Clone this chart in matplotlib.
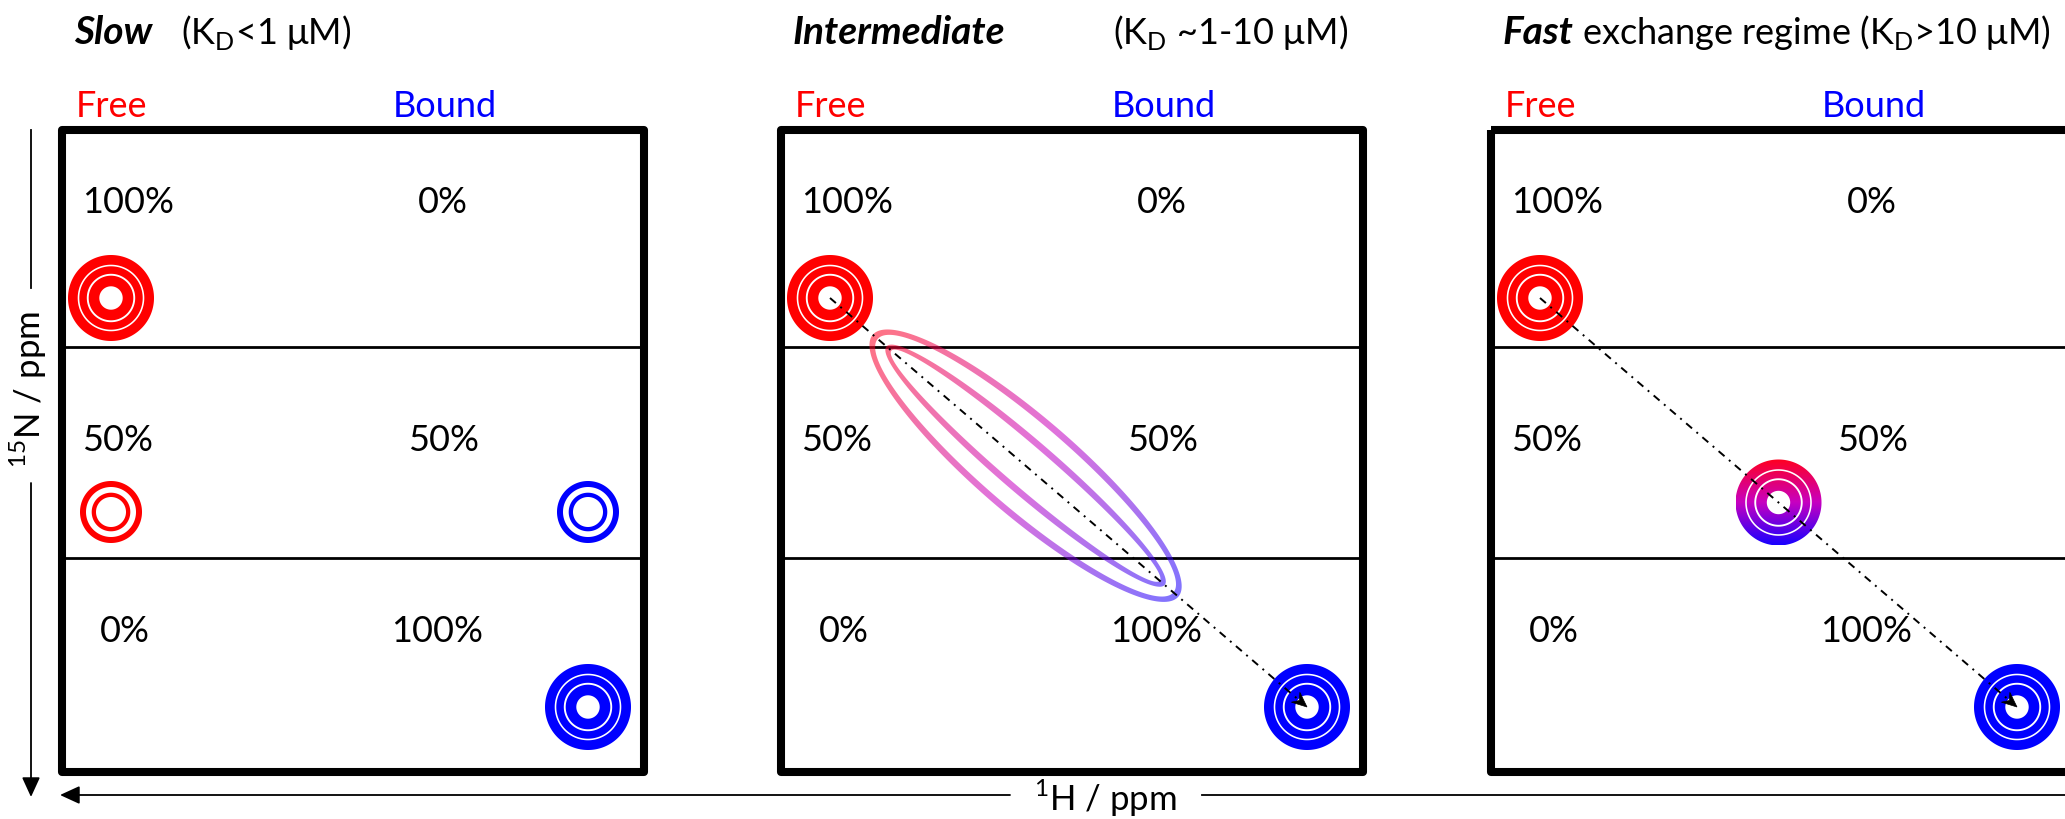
import numpy as np
import matplotlib.pyplot as plt
from matplotlib.path import Path
from matplotlib.patches import PathPatch, Polygon, Rectangle
from matplotlib.colors import LinearSegmentedColormap

plt.rcParams['font.family'] = 'Lato'
plt.rcParams['mathtext.fontset'] = 'custom'
plt.rcParams['mathtext.rm'] = 'Lato'

# regimes and text
regimes = ['Slow', 'Intermediate', 'Fast']
kd_labels = [r'(K$_\mathregular{D}$<1 μM)',
             r'(K$_\mathregular{D}$ ~1-10 μM)',
             r'exchange regime (K$_\mathregular{D}$>10 μM)']
free_pct = [100, 50, 0]
bound_pct = [0, 50, 100]
# position of the 50% peak along the free -> bound path (None = two separate peaks)
mid_frac = [None, 0.41, 0.5]
# broadened intermediate peak: (half length, half width) of the two contours
broad_axes = [(198, 46), (180, 24)]

# layout (pixels)
W, H = 2065, 819
box_x = [58, 777, 1487]
box_top, box_w, box_h = 126, 590, 650
kd_dx = [123, 336, 95]
row_lines = [347, 558]
text_base = [213, 451, 642]
col1_dx = [70, 60, 67]
col2_dx = [385, 386, 379]
free_xy = np.array([53.0, 172.0])
bound_xy = np.array([530.0, 581.0])
half_y = 386
big_rings = [(43, 33.3), (31.7, 24.2), (22.3, 11.7)]
small_rings = [(31, 25), (19.3, 15)]
FS = 26
FS_TITLE = 28

RED, BLUE = '#ff0000', '#0000ff'
cmap = LinearSegmentedColormap.from_list('fb', ['#ff0020', '#c800c0', '#1800ff'])


def ell(cx, cy, a, b, ang, rev=False, n=240):
    t = np.linspace(0, 2 * np.pi, n)
    if rev:
        t = t[::-1]
    x, y = a * np.cos(t), b * np.sin(t)
    c, s = np.cos(ang), np.sin(ang)
    return Path(np.column_stack([cx + x * c - y * s, cy + x * s + y * c]), closed=True)


def peak_path(cx, cy, rings):
    parts = []
    for ro, ri in rings:
        parts += [ell(cx, cy, ro, ro, 0), ell(cx, cy, ri, ri, 0, rev=True)]
    return Path.make_compound_path(*parts)


def solid_peak(cx, cy, rings, color):
    ax.add_patch(PathPatch(peak_path(cx, cy, rings), fc=color, ec='none', zorder=3))


def gradient_peak(cx, cy, rings):
    clip = PathPatch(peak_path(cx, cy, rings), fc='none', ec='none')
    ax.add_patch(clip)
    r = rings[0][0]
    grad = cmap(np.linspace(0, 1, 256))[:, None, :]
    im = ax.imshow(grad, extent=(cx - r, cx + r, cy + r, cy - r), aspect='auto',
                   interpolation='bilinear', zorder=3)
    im.set_clip_path(clip)


def broad_peak(p0, p1, frac, axes_list, lw=6.5):
    d = p1 - p0
    ang = np.arctan2(d[1], d[0])
    c = p0 + frac * d
    parts = []
    for a, b in axes_list:
        parts += [ell(c[0], c[1], a + lw / 2, b + lw / 2, ang),
                  ell(c[0], c[1], a - lw / 2, b - lw / 2, ang, rev=True)]
    clip = PathPatch(Path.make_compound_path(*parts), fc='none', ec='none')
    ax.add_patch(clip)
    a0 = axes_list[0][0] + lw
    xs = np.linspace(c[0] - a0, c[0] + a0, 300)
    ys = np.linspace(c[1] - a0, c[1] + a0, 300)
    X, Y = np.meshgrid(xs, ys)
    s = ((X - c[0]) * np.cos(ang) + (Y - c[1]) * np.sin(ang)) / a0
    img = cmap(np.clip((s + 1) / 2, 0, 1))
    img[..., 3] = 0.55
    im = ax.imshow(img, extent=(xs[0], xs[-1], ys[-1], ys[0]), aspect='auto',
                   interpolation='bilinear', zorder=4)
    im.set_clip_path(clip)


def exchange_path(p0, p1):
    d = p1 - p0
    u = d / np.hypot(*d)
    n = np.array([-u[1], u[0]])
    L, w, notch = 15, 6.5, 5
    end = p1 - (L - notch) * u
    ax.plot([p0[0], end[0]], [p0[1], end[1]], color='black', lw=1.4,
            ls=(0, (4, 3, 1, 3)), zorder=5)
    head = [p1, p1 - L * u + w * n, p1 - (L - notch) * u, p1 - L * u - w * n]
    ax.add_patch(Polygon(head, closed=True, fc='black', ec='black', lw=0.5, zorder=6))


fig = plt.figure(figsize=(W / 100, H / 100), dpi=100)
ax = fig.add_axes([0, 0, 1, 1])

for i, bx in enumerate(box_x):
    ax.text(bx + 16, 44, regimes[i], fontsize=FS_TITLE, fontweight='bold', style='italic',
            va='baseline')
    ax.text(bx + kd_dx[i], 44, kd_labels[i], fontsize=FS, va='baseline')
    ax.text(bx + 18, 117, 'Free', color=RED, fontsize=FS, va='baseline')
    ax.text(bx + 335, 117, 'Bound', color=BLUE, fontsize=FS, va='baseline')

    ax.add_patch(Rectangle((bx + 4, box_top + 4), box_w - 8, box_h - 8, fill=False,
                           ec='black', lw=5.8, joinstyle='round', zorder=2))
    for y in row_lines:
        ax.plot([bx + 4, bx + box_w - 4], [y, y], color='black', lw=2.0, zorder=2)
    for r in range(3):
        ax.text(bx + col1_dx[r], text_base[r], f'{free_pct[r]}%', fontsize=FS,
                ha='center', va='baseline')
        ax.text(bx + col2_dx[r], text_base[r], f'{bound_pct[r]}%', fontsize=FS,
                ha='center', va='baseline')

    origin = np.array([bx, box_top], dtype=float)
    f = origin + free_xy
    b = origin + bound_xy
    solid_peak(f[0], f[1], big_rings, RED)
    solid_peak(b[0], b[1], big_rings, BLUE)
    if mid_frac[i] is None:
        solid_peak(f[0], box_top + half_y, small_rings, RED)
        solid_peak(b[0], box_top + half_y, small_rings, BLUE)
    else:
        if i == 1:
            broad_peak(f, b, mid_frac[i], broad_axes)
        else:
            m = f + mid_frac[i] * (b - f)
            gradient_peak(m[0], m[1], big_rings)
        exchange_path(f, b)

# axis arrows
ax.plot([31, 31], [130, 288], color='black', lw=1.3)
ax.annotate('', xy=(31, 797), xytext=(31, 483),
            arrowprops=dict(arrowstyle='-|>,head_length=1.2,head_width=0.55',
                            lw=1.3, color='black', shrinkA=0, shrinkB=0))
ax.text(28, 390, r'$^\mathregular{15}$N / ppm', rotation=90, fontsize=FS - 1,
        ha='center', va='center')
ax.annotate('', xy=(60, 795), xytext=(1010, 795),
            arrowprops=dict(arrowstyle='-|>,head_length=1.2,head_width=0.55',
                            lw=1.3, color='black', shrinkA=0, shrinkB=0))
ax.plot([1202, W], [795, 795], color='black', lw=1.3)
ax.text(1105, 811, r'$^\mathregular{1}$H / ppm', fontsize=FS - 1, ha='center',
        va='baseline')

ax.set_xlim(0, W)
ax.set_ylim(H, 0)
ax.axis('off')
fig.savefig('out.png', dpi=100)
